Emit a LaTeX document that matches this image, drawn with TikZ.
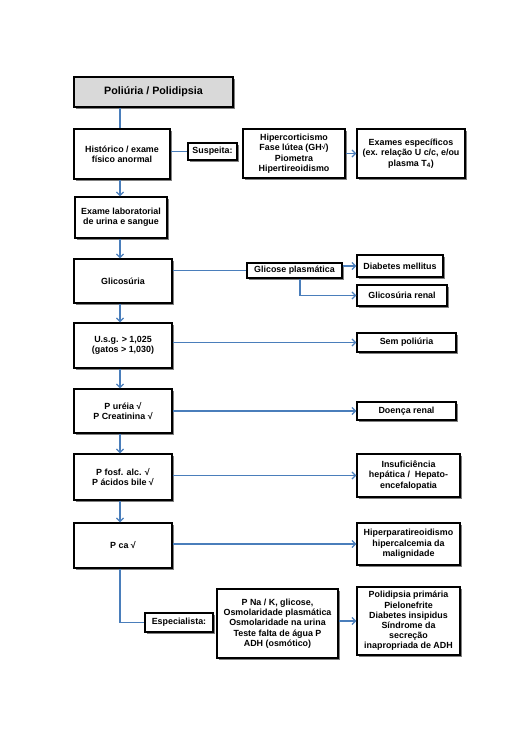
\documentclass[tikz,border=0pt]{standalone}
\usepackage{fontspec}
\setmainfont{Liberation Sans}
\usetikzlibrary{arrows.meta,shadows}
\definecolor{conn}{HTML}{4A7EBB}
\definecolor{titlefill}{HTML}{D9D9D9}
\begin{document}
\begin{tikzpicture}[x=1pt,y=-1pt,
  box/.style={draw=black,line width=1.2pt,fill=white,inner sep=1pt,align=center,
    font=\fontsize{8.9}{10.4}\selectfont\bfseries,
    drop shadow={shadow xshift=2pt,shadow yshift=-2pt,fill=black!50,opacity=1}},
  line/.style={draw=conn,line width=1.5pt},
  arr/.style={line,-{Straight Barb[length=3.5pt,width=7pt,line width=1.3pt]}}
]
\useasboundingbox (0,0) rectangle (529,750);
\coordinate (vx) at (120,0);
\coordinate (gx) at (300,0);

\node[box,fill=titlefill,minimum width=159pt,minimum height=30pt,font=\fontsize{10.7}{12}\selectfont\bfseries] (title) at (153.5,92) {Poliúria / Polidipsia};
\node[box,minimum width=96pt,minimum height=50pt] (hist) at (122,154) {Histórico / exame\\físico anormal};
\node[box,minimum width=49pt,minimum height=17pt] (susp) at (212.5,151.5) {Suspeita:};
\node[box,minimum width=102pt,minimum height=49pt] (hiper) at (294,153.5) {Hipercorticismo\\Fase lútea (GH\raisebox{1pt}{\scriptsize √})\\Piometra\\Hipertireoidismo};
\node[box,minimum width=108pt,minimum height=49pt] (exames) at (411,153.5) {Exames específicos\\(ex. relação U c/c, e/ou\\plasma T\textsubscript{4})};
\node[box,minimum width=92pt,minimum height=41pt] (exame) at (121,217.5) {Exame laboratorial\\de urina e sangue};
\node[box,minimum width=98pt,minimum height=44pt] (glic) at (123,281) {Glicosúria};
\node[box,minimum width=95pt,minimum height=15pt] (glicpl) at (294.5,270.5) {Glicose plasmática};
\node[box,minimum width=86pt,minimum height=22pt] (dm) at (400,266) {Diabetes mellitus};
\node[box,minimum width=90pt,minimum height=21pt] (renal) at (402,295.5) {Glicosúria renal};
\node[box,minimum width=98pt,minimum height=45pt] (usg) at (123,345.5) {U.s.g. > 1,025\\(gatos > 1,030)};
\node[box,minimum width=99pt,minimum height=19pt] (sem) at (406.5,342.5) {Sem poliúria};
\node[box,minimum width=98pt,minimum height=44pt] (ureia) at (123,411) {P uréia √\\P Creatinina √};
\node[box,minimum width=99pt,minimum height=18pt] (doenca) at (406.5,411) {Doença renal};
\node[box,minimum width=98pt,minimum height=46pt] (fosf) at (123,477) {P fosf. alc. √\\P ácidos bile √};
\node[box,minimum width=103pt,minimum height=43pt] (insuf) at (408.5,475.5) {Insuficiência\\hepática /\ \ Hepato-\\encefalopatia};
\node[box,minimum width=98pt,minimum height=45pt] (ca) at (123,545.5) {P ca √};
\node[box,minimum width=103pt,minimum height=42pt] (hpara) at (408.5,544) {Hiperparatireoidismo\\hipercalcemia da\\malignidade};
\node[box,minimum width=68pt,minimum height=19pt] (esp) at (179,622.5) {Especialista:};
\node[box,minimum width=121pt,minimum height=69pt] (pna) at (277.5,623.5) {P Na / K, glicose,\\Osmolaridade plasmática\\Osmolaridade na urina\\Teste falta de água P\\ADH (osmótico)};
\node[box,minimum width=103pt,minimum height=68pt,font=\fontsize{8.9}{10.2}\selectfont\bfseries] (polid) at (408.5,621) {Polidipsia primária\\Pielonefrite\\Diabetes insipidus\\Síndrome da\\secreção\\inapropriada de ADH};

% vertical chain
\draw[line] (title.south -| vx) -- (hist.north -| vx);
\draw[arr] (hist.south -| vx) -- (exame.north -| vx);
\draw[arr] (exame.south -| vx) -- (glic.north -| vx);
\draw[arr] (glic.south -| vx) -- (usg.north -| vx);
\draw[arr] (usg.south -| vx) -- (ureia.north -| vx);
\draw[arr] (ureia.south -| vx) -- (fosf.north -| vx);
\draw[arr] (fosf.south -| vx) -- (ca.north -| vx);
\draw[line] (ca.south -| vx) |- (esp.west);

% side connectors
\draw[line] (hist.east |- susp.west) -- (susp.west);
\draw[arr] (hiper.east) -- (exames.west);
\draw[line] (glic.east |- glicpl.west) -- (glicpl.west);
\draw[arr] (glicpl.east |- dm.west) -- (dm.west);
\draw[arr] (glicpl.south -| gx) |- (renal.west);
\draw[arr] (usg.east |- sem.west) -- (sem.west);
\draw[arr] (ureia.east |- doenca.west) -- (doenca.west);
\draw[arr] (fosf.east |- insuf.west) -- (insuf.west);
\draw[arr] (ca.east |- hpara.west) -- (hpara.west);
\draw[arr] (pna.east |- polid.west) -- (polid.west);
\end{tikzpicture}
\end{document}
